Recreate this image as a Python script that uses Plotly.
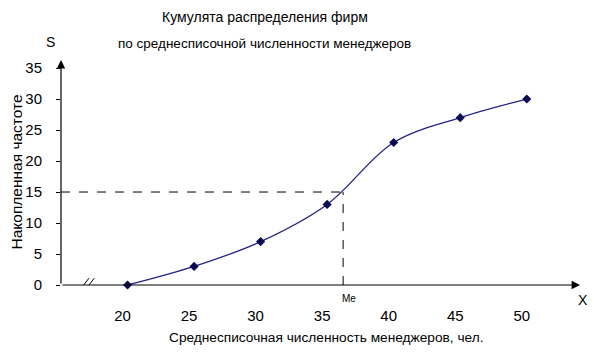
import plotly.graph_objects as go

# Data
x_values = [20, 25, 30, 35, 40, 45, 50]
cum_freq = [0, 3, 7, 13, 23, 27, 30]
y_ticks = [0, 5, 10, 15, 20, 25, 30, 35]
x_ticks = [20, 25, 30, 35, 40, 45, 50]
median_x = 36.2
half_n = 15

title_l1 = "Кумулята распределения фирм"
title_l2 = "по среднесписочной численности менеджеров"
x_title = "Среднесписочная численность менеджеров, чел."
y_title = "Накопленная частоте"

FONT = "Liberation Sans, Arial, sans-serif"
X0, X1 = 15, 54
Y0, Y1 = 0, 36.3

fig = go.Figure()
fig.add_trace(go.Scatter(
    x=x_values, y=cum_freq, mode="lines+markers",
    line=dict(color="#22228a", width=1.3, shape="spline", smoothing=1),
    marker=dict(symbol="diamond", size=7, color="#0a0a50"),
    showlegend=False, cliponaxis=False,
))

# dashed median guides
fig.add_shape(type="line", x0=X0, x1=median_x, y0=half_n, y1=half_n,
              line=dict(color="black", width=1, dash="dash"))
fig.add_shape(type="line", x0=median_x, x1=median_x, y0=0, y1=half_n,
              line=dict(color="black", width=1, dash="dash"))

# axis arrows
fig.add_annotation(x=X0, y=Y1, ax=X0, ay=0, xref="x", yref="y", axref="x", ayref="y",
                   showarrow=True, arrowhead=2, arrowsize=1.4, arrowwidth=1.2,
                   arrowcolor="black", text="")
fig.add_annotation(x=X1, y=0, ax=X0, ay=0, xref="x", yref="y", axref="x", ayref="y",
                   showarrow=True, arrowhead=2, arrowsize=1.4, arrowwidth=1.2,
                   arrowcolor="black", text="")

# axis break mark "//"
for dx in (0, 0.4):
    fig.add_shape(type="line", x0=16.3 + dx, x1=17.1 + dx, y0=-1.1, y1=1.1,
                  line=dict(color="black", width=1))

ann_font = dict(family=FONT, size=14, color="black")
fig.add_annotation(text=title_l1, xref="paper", yref="paper", x=0.393, y=1, yshift=43,
                   showarrow=False, font=ann_font, xanchor="center", yanchor="middle")
fig.add_annotation(text=title_l2, xref="paper", yref="paper", x=0.393, y=1, yshift=17,
                   showarrow=False, font=dict(family=FONT, size=13.5, color="black"),
                   xanchor="center", yanchor="middle")
fig.add_annotation(text=x_title, xref="paper", yref="paper", x=0.511, y=0, yshift=-52,
                   showarrow=False, font=dict(family=FONT, size=13.7, color="black"),
                   xanchor="center", yanchor="middle")
fig.add_annotation(text=y_title, xref="paper", yref="paper", x=0, xshift=-45, y=0.5,
                   textangle=-90, showarrow=False,
                   font=dict(family=FONT, size=15.5, color="black"),
                   xanchor="center", yanchor="middle")
fig.add_annotation(text="S", xref="paper", yref="paper", x=0, xshift=-11, y=1, yshift=18,
                   showarrow=False, font=ann_font, xanchor="center", yanchor="middle")
fig.add_annotation(text="X", xref="paper", yref="paper", x=1, xshift=3, y=0, yshift=-15,
                   showarrow=False, font=ann_font, xanchor="center", yanchor="middle")
fig.add_annotation(text="Me", xref="x", yref="y", x=median_x, xshift=6, y=0, yshift=-13,
                   showarrow=False, font=dict(family=FONT, size=10, color="black"),
                   xanchor="center", yanchor="middle")

fig.update_xaxes(range=[X0, X1], tickvals=x_ticks, ticks="", showgrid=False,
                 zeroline=False, showline=False, ticklabelstandoff=20, automargin=False,
                 ticklabelshift=-5,
                 tickfont=dict(family=FONT, size=15, color="black"))
fig.update_yaxes(range=[Y0, Y1], tickvals=y_ticks, ticks="outside", ticklen=4,
                 tickcolor="black", showgrid=False, zeroline=False, showline=False,
                 ticklabelstandoff=11, automargin=False,
                 tickfont=dict(family=FONT, size=15, color="black"))

fig.update_layout(
    width=594, height=356,
    margin=dict(l=61, r=14, t=60, b=71),
    plot_bgcolor="white", paper_bgcolor="white",
    font=dict(family=FONT),
)
fig.write_html("out.html", config={"displayModeBar": False},
               post_script="document.body.style.margin='0px';")
